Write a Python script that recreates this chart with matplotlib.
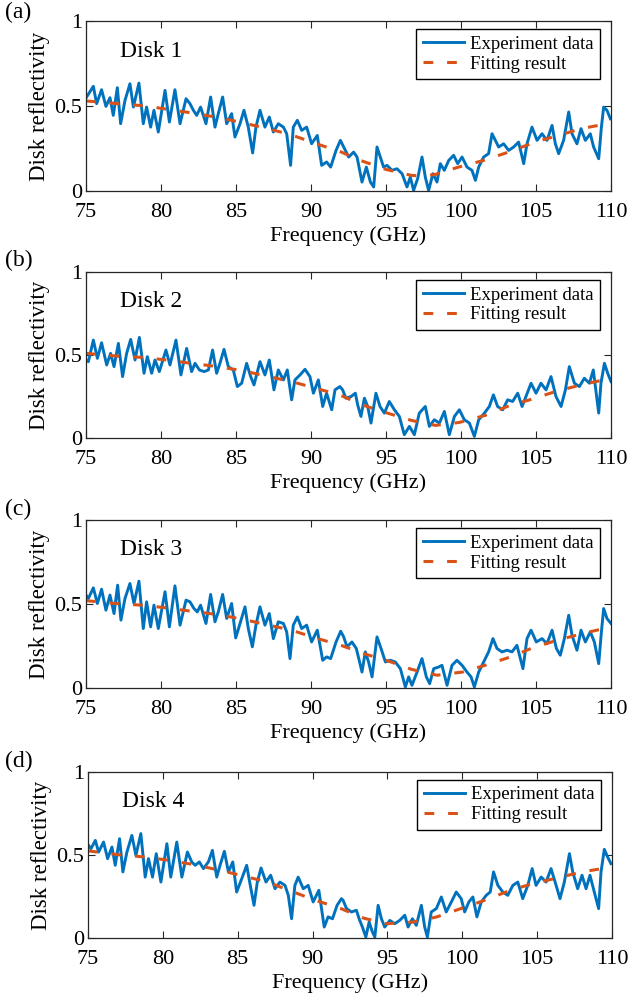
import matplotlib.pyplot as plt

# Fonts / dash style (MATLAB-like look)
plt.rcParams['font.family'] = 'Liberation Serif'
plt.rcParams['lines.scale_dashes'] = False

# ---- Disk 1 ----
d1_f = [75.04, 75.49, 75.71, 76.04, 76.33, 76.6, 76.82, 77.09, 77.31, 77.6,
        77.93, 78.16, 78.53, 78.82, 79.04, 79.31, 79.53, 79.82, 80.27, 80.56,
        80.93, 81.27, 81.67, 81.93, 82.16, 82.38, 82.64, 83.0, 83.31, 83.6,
        83.82, 84.11, 84.38, 84.71, 84.93, 85.27, 85.53, 85.82, 86.11, 86.33,
        86.6, 86.93, 87.22, 87.49, 87.82, 88.16, 88.38, 88.64, 88.82, 89.09,
        89.38, 89.71, 90.04, 90.42, 90.71, 91.04, 91.31, 91.67,
        91.96, 92.18, 92.51, 92.84, 93.07, 93.4, 93.69, 93.96, 94.18, 94.4,
        94.62, 94.84, 95.07, 95.4, 95.73, 96.07, 96.4, 96.62, 96.84, 97.11,
        97.4, 97.62, 97.84, 98.13, 98.4, 98.62, 98.89, 99.18, 99.51, 99.78,
        100.07, 100.4, 100.73, 100.96, 101.18, 101.51, 101.84, 102.07, 102.29, 102.51,
        102.84, 103.18, 103.51, 103.84, 104.18, 104.4, 104.73, 105.07, 105.4, 105.73,
        106.07, 106.29, 106.51, 106.84, 107.18, 107.4, 107.73, 108.0, 108.29, 108.62,
        108.84, 109.18, 109.36, 109.51, 109.73, 109.96]
d1_r = [0.553, 0.616, 0.514, 0.596, 0.498, 0.549, 0.445, 0.608, 0.396, 0.533,
        0.631, 0.494, 0.635, 0.396, 0.494, 0.376, 0.475, 0.347, 0.592, 0.406,
        0.596, 0.396, 0.543, 0.514, 0.475, 0.445, 0.494, 0.396, 0.553, 0.376,
        0.455, 0.553, 0.396, 0.455, 0.318, 0.396, 0.475, 0.376, 0.224, 0.376,
        0.475, 0.376, 0.435, 0.347, 0.396, 0.376, 0.337, 0.151, 0.376, 0.416,
        0.357, 0.376, 0.278, 0.327, 0.151, 0.171, 0.141, 0.239,
        0.298, 0.259, 0.2, 0.229, 0.2, 0.053, 0.141, 0.053, 0.024, 0.259,
        0.2, 0.141, 0.151, 0.122, 0.131, 0.102, 0.024, 0.082, 0.004, 0.073,
        0.2, 0.082, 0.004, 0.102, 0.053, 0.161, 0.122, 0.18, 0.21, 0.161,
        0.2, 0.141, 0.122, 0.063, 0.141, 0.2, 0.22, 0.337, 0.298, 0.259,
        0.278, 0.239, 0.259, 0.288, 0.161, 0.278, 0.376, 0.298, 0.337, 0.298,
        0.386, 0.278, 0.22, 0.298, 0.465, 0.337, 0.278, 0.367, 0.298, 0.337,
        0.259, 0.19, 0.376, 0.494, 0.475, 0.425]
d1_fit_f = [75, 77, 79, 80.5, 82, 84, 85.5, 87, 88.7, 90.3, 92, 93.3, 95, 96.7, 97.5,
            98.3, 99.8, 101.5, 103.2, 105, 106.5, 108, 110]
d1_fit_r = [0.53, 0.515, 0.50, 0.48, 0.46, 0.43, 0.40, 0.37, 0.33, 0.28, 0.23, 0.18, 0.127,
            0.092, 0.088, 0.098, 0.14, 0.18, 0.23, 0.29, 0.327, 0.367, 0.40]

# ---- Disk 2 ----
d2_f = [75.0, 75.16, 75.49, 75.76, 76.04, 76.38, 76.64, 76.87, 77.16, 77.44,
        77.71, 77.98, 78.27, 78.56, 78.87, 79.09, 79.38, 79.6, 79.89, 80.33,
        80.6, 81.0, 81.33, 81.71, 82.04, 82.27, 82.56, 82.87, 83.16, 83.44,
        83.71, 83.93, 84.2, 84.49, 84.82, 85.09, 85.38, 85.71, 85.98, 86.2,
        86.6, 86.93, 87.22, 87.53, 87.82, 88.16, 88.42, 88.71, 88.93, 89.27,
        89.6, 89.93, 90.16, 90.49, 90.78, 91.04, 91.38, 91.6, 91.93,
        92.11, 92.33, 92.67, 92.96, 93.11, 93.33, 93.56, 93.78, 94.0, 94.33,
        94.6, 94.89, 95.22, 95.56, 95.89, 96.22, 96.56, 96.89, 97.22, 97.62,
        97.89, 98.22, 98.56, 98.89, 99.22, 99.56, 99.89, 100.22, 100.56, 100.89,
        101.18, 101.56, 101.89, 102.16, 102.44, 102.78, 103.11, 103.44, 103.78, 104.07,
        104.33, 104.67, 105.0, 105.33, 105.67, 106.0, 106.33, 106.67, 106.96, 107.22,
        107.56, 107.89, 108.22, 108.56, 108.82, 109.18, 109.33, 109.56, 109.78, 110.0]
d2_r = [0.47, 0.46, 0.59, 0.48, 0.574, 0.44, 0.51, 0.43, 0.57, 0.37,
        0.51, 0.594, 0.47, 0.606, 0.39, 0.49, 0.39, 0.47, 0.40, 0.53,
        0.44, 0.59, 0.38, 0.54, 0.40, 0.45, 0.41, 0.40, 0.41, 0.53,
        0.39, 0.45, 0.534, 0.43, 0.41, 0.31, 0.33, 0.45, 0.37, 0.32,
        0.46, 0.38, 0.47, 0.29, 0.41, 0.35, 0.41, 0.23, 0.35, 0.38,
        0.414, 0.37, 0.27, 0.35, 0.19, 0.27, 0.17, 0.29, 0.31,
        0.29, 0.24, 0.25, 0.27, 0.2, 0.13, 0.24, 0.19, 0.09, 0.27,
        0.19, 0.15, 0.22, 0.17, 0.13, 0.02, 0.07, 0.02, 0.15, 0.19,
        0.07, 0.11, 0.09, 0.16, 0.02, 0.13, 0.17, 0.11, 0.09, 0.01,
        0.11, 0.15, 0.19, 0.26, 0.19, 0.17, 0.23, 0.22, 0.27, 0.19,
        0.25, 0.33, 0.27, 0.33, 0.29, 0.37, 0.25, 0.19, 0.29, 0.43,
        0.33, 0.31, 0.36, 0.33, 0.41, 0.15, 0.33, 0.45, 0.39, 0.34]
d2_fit_f = [75, 77.0, 78.7, 80.4, 82.0, 83.8, 85.4, 87.0, 88.7, 90.3, 91.9, 93.4, 95.1,
            96.7, 98.3, 99.9, 101.6, 103.2, 104.8, 106.3, 108.0, 110]
d2_fit_r = [0.51, 0.494, 0.486, 0.47, 0.45, 0.43, 0.406, 0.374, 0.34, 0.30, 0.26, 0.20, 0.15,
            0.106, 0.076, 0.094, 0.136, 0.194, 0.236, 0.28, 0.32, 0.36]

# ---- Disk 3 ----
d3_f = [75.0, 75.16, 75.49, 75.76, 76.04, 76.33, 76.6, 76.87, 77.11, 77.33,
        77.6, 77.93, 78.2, 78.53, 78.82, 79.04, 79.31, 79.53, 79.82, 80.27,
        80.56, 80.93, 81.27, 81.67, 81.93, 82.2, 82.42, 82.64, 83.0, 83.31,
        83.6, 83.82, 84.11, 84.38, 84.71, 84.98, 85.27, 85.6, 85.82, 86.09,
        86.33, 86.6, 86.93, 87.22, 87.49, 87.82, 88.16, 88.38, 88.6, 88.82,
        89.09, 89.38, 89.71, 90.04, 90.42, 90.78, 91.04, 91.31, 91.67, 91.98,
        92.18, 92.4, 92.73, 93.02, 93.24, 93.4, 93.62, 93.84, 94.07, 94.4,
        94.67, 94.96, 95.29, 95.62, 95.96, 96.29, 96.51, 96.73, 97.07, 97.4,
        97.69, 97.91, 98.18, 98.51, 98.73, 99.07, 99.4, 99.73, 100.07, 100.4,
        100.67, 100.89, 101.18, 101.51, 101.84, 102.13, 102.4, 102.73, 103.07, 103.4,
        103.73, 104.13, 104.4, 104.67, 105.02, 105.4, 105.73, 106.07, 106.36, 106.62,
        106.89, 107.18, 107.4, 107.73, 108.0, 108.29, 108.62, 108.89, 109.18, 109.36,
        109.51, 109.73, 110.0]
d3_r = [0.553, 0.533, 0.596, 0.503, 0.588, 0.463, 0.553, 0.443, 0.612, 0.404,
        0.533, 0.622, 0.503, 0.636, 0.354, 0.513, 0.364, 0.493, 0.354, 0.573,
        0.364, 0.608, 0.374, 0.523, 0.513, 0.473, 0.453, 0.493, 0.384, 0.557,
        0.394, 0.453, 0.557, 0.414, 0.503, 0.298, 0.384, 0.483, 0.354, 0.245,
        0.374, 0.483, 0.374, 0.443, 0.294, 0.394, 0.384, 0.334, 0.175, 0.374,
        0.423, 0.354, 0.374, 0.274, 0.344, 0.165, 0.185, 0.175, 0.274, 0.338,
        0.304, 0.245, 0.274, 0.235, 0.155, 0.095, 0.215, 0.155, 0.066, 0.304,
        0.235, 0.155, 0.165, 0.155, 0.115, 0.006, 0.066, 0.016, 0.095, 0.175,
        0.066, 0.026, 0.115, 0.125, 0.135, 0.016, 0.135, 0.165, 0.135, 0.095,
        0.066, 0.006, 0.095, 0.155, 0.215, 0.294, 0.235, 0.215, 0.225, 0.215,
        0.254, 0.115, 0.294, 0.344, 0.274, 0.294, 0.264, 0.344, 0.235, 0.195,
        0.294, 0.433, 0.314, 0.225, 0.344, 0.274, 0.334, 0.274, 0.145, 0.334,
        0.473, 0.414, 0.384]
d3_fit_f = [75, 77.0, 78.7, 80.4, 82.0, 83.8, 85.4, 87.0, 88.7, 90.3, 92.0, 93.5, 95.2,
            96.7, 98.4, 100.1, 101.6, 103.3, 104.8, 106.4, 108.1, 110]
d3_fit_r = [0.52, 0.503, 0.493, 0.477, 0.457, 0.437, 0.41, 0.378, 0.344, 0.298, 0.254, 0.205,
            0.159, 0.111, 0.076, 0.095, 0.135, 0.185, 0.24, 0.284, 0.324, 0.364]

# ---- Disk 4 ----
d4_f = [75.04, 75.2, 75.49, 75.71, 76.04, 76.31, 76.6, 76.82, 77.11, 77.33,
        77.6, 77.93, 78.2, 78.53, 78.82, 79.04, 79.31, 79.56, 79.87, 80.27,
        80.53, 80.93, 81.27, 81.64, 81.93, 82.16, 82.44, 82.71, 83.04, 83.31,
        83.6, 83.82, 84.11, 84.38, 84.67, 84.93, 85.27, 85.6, 85.82, 86.09,
        86.31, 86.56, 86.89, 87.2, 87.49, 87.82, 88.16, 88.38, 88.6, 88.82,
        89.04, 89.38, 89.71, 90.04, 90.42, 90.78, 91.04, 91.33, 91.64, 91.93,
        92.04, 92.27, 92.6, 92.93, 93.11, 93.33, 93.56, 93.78, 94.0, 94.16,
        94.38, 94.6, 94.82, 95.16, 95.49, 95.82, 96.16, 96.38, 96.67, 96.93,
        97.27, 97.49, 97.67, 97.93, 98.27, 98.6, 98.93, 99.27, 99.6, 99.93,
        100.16, 100.44, 100.71, 100.98, 101.27, 101.6, 101.87, 102.09, 102.38, 102.71,
        103.04, 103.38, 103.71, 104.04, 104.38, 104.67, 104.93, 105.27, 105.6, 105.93,
        106.27, 106.53, 106.82, 107.16, 107.38, 107.71, 108.0, 108.27, 108.53, 108.82,
        109.11, 109.27, 109.49, 109.71, 109.93]
d4_r = [0.558, 0.538, 0.588, 0.518, 0.578, 0.478, 0.548, 0.438, 0.598, 0.398,
        0.518, 0.618, 0.498, 0.629, 0.367, 0.478, 0.367, 0.508, 0.337, 0.568,
        0.367, 0.578, 0.367, 0.518, 0.458, 0.438, 0.458, 0.418, 0.458, 0.528,
        0.367, 0.438, 0.522, 0.398, 0.458, 0.277, 0.357, 0.438, 0.327, 0.197,
        0.337, 0.422, 0.337, 0.378, 0.297, 0.337, 0.317, 0.257, 0.116, 0.317,
        0.367, 0.297, 0.317, 0.217, 0.287, 0.066, 0.127, 0.116, 0.197, 0.237,
        0.227, 0.177, 0.157, 0.167, 0.116, 0.066, 0.006, 0.096, 0.036, 0.006,
        0.197, 0.116, 0.066, 0.106, 0.086, 0.106, 0.137, 0.066, 0.116, 0.076,
        0.197, 0.066, 0.006, 0.157, 0.177, 0.247, 0.157, 0.217, 0.277, 0.237,
        0.157, 0.217, 0.247, 0.127, 0.217, 0.257, 0.277, 0.398, 0.317, 0.277,
        0.257, 0.317, 0.337, 0.237, 0.317, 0.418, 0.317, 0.367, 0.337, 0.418,
        0.317, 0.237, 0.337, 0.508, 0.398, 0.297, 0.378, 0.297, 0.378, 0.277,
        0.177, 0.398, 0.534, 0.488, 0.448]
d4_fit_f = [75, 77.0, 78.8, 80.4, 82.1, 83.8, 85.4, 87.0, 88.6, 90.2, 91.9, 93.4, 94.9,
            96.7, 98.3, 99.9, 101.5, 103.2, 104.7, 106.3, 108.0, 110]
d4_fit_r = [0.525, 0.502, 0.488, 0.468, 0.442, 0.408, 0.373, 0.337, 0.281, 0.227, 0.177, 0.12,
            0.086, 0.096, 0.127, 0.177, 0.227, 0.287, 0.327, 0.361, 0.398, 0.428]

disk_names = ['Disk 1', 'Disk 2', 'Disk 3', 'Disk 4']
panel_labels = ['(a)', '(b)', '(c)', '(d)']
x_ticks = [75, 80, 85, 90, 95, 100, 105, 110]
y_ticks = [0, 0.5, 1]
y_tick_labels = ['0', '0.5', '1']

exp_data = [(d1_f, d1_r), (d2_f, d2_r), (d3_f, d3_r), (d4_f, d4_r)]
fit_data = [(d1_fit_f, d1_fit_r), (d2_fit_f, d2_fit_r), (d3_fit_f, d3_fit_r), (d4_fit_f, d4_fit_r)]

# layout (figure fractions) and panel label baselines (px from top)
axes_pos = [[0.1367, 0.8101, 0.8347, 0.169],
            [0.1367, 0.5646, 0.8347, 0.165],
            [0.1367, 0.3161, 0.8347, 0.167],
            [0.1399, 0.0676, 0.833, 0.165]]
label_y_px = [18, 266, 515, 767]

fig = plt.figure(figsize=(6.29, 10.06), dpi=100)

for i in range(4):
    ax = fig.add_axes(axes_pos[i])
    f, r = exp_data[i]
    ff, fr = fit_data[i]
    ax.plot(f, r, color='#0072BD', lw=2.1, solid_joinstyle='round', label='Experiment data')
    ax.plot(ff, fr, color='#D95319', lw=2.2, dashes=(7, 10), label='Fitting result')

    ax.set_xlim(75, 110)
    ax.set_ylim(0, 1)
    ax.set_xticks(x_ticks)
    ax.set_yticks(y_ticks)
    ax.set_yticklabels(y_tick_labels)
    ax.tick_params(direction='in', top=True, right=True, length=5, width=0.8,
                   labelsize=16, color='#262626')
    ax.tick_params(axis='x', pad=8.5)
    ax.tick_params(axis='y', pad=3)
    for sp in ax.spines.values():
        sp.set_linewidth(0.9)
        sp.set_color('#262626')

    ax.set_xlabel('Frequency (GHz)', fontsize=16, labelpad=3.5)
    ax.set_ylabel('Disk reflectivity', fontsize=16.5, labelpad=3)
    ax.text(77.3, 0.79, disk_names[i], fontsize=17)

    leg = ax.legend(loc='upper right', bbox_to_anchor=(0.979, 0.953), borderaxespad=0,
                    fontsize=13.5, fancybox=False, framealpha=1, edgecolor='black',
                    handlelength=2.2, handletextpad=0.3, borderpad=0.35, labelspacing=0.15)
    leg.get_frame().set_linewidth(1.0)

    fig.text(5 / 629, 1 - label_y_px[i] / 1006, panel_labels[i], fontsize=17, va='baseline')

plt.savefig('out.png', dpi=100)
